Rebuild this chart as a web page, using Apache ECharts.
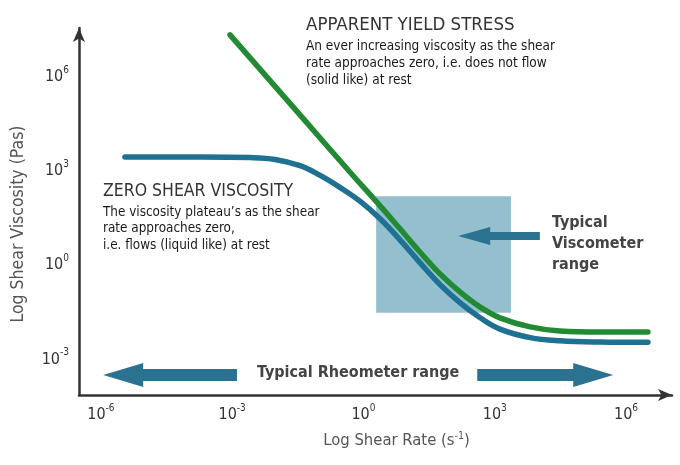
<!DOCTYPE html>
<html>
<head>
<meta charset="utf-8">
<script src="https://cdn.jsdelivr.net/npm/echarts@6/dist/echarts.min.js"></script>
<style>
html,body{margin:0;padding:0;background:#fff;}
#chart{width:680px;height:465px;}
</style>
</head>
<body>
<div id="chart"></div>
<script>
// Exponents (log10)
const xTicks = [-6, -3, 0, 3, 6];
const yTicks = [-3, 0, 3, 6];

// Zero shear viscosity curve (blue): log10 shear rate, log10 viscosity
const zsvLogRate = [-5.45, -3.73, -2.59, -2.02, -1.45, -0.99, -0.54, -0.08, 0.38, 0.84, 1.29, 1.75, 2.21, 2.66, 3.12, 3.81, 4.49, 5.41, 6.50];
const zsvLogVisc = [3.39, 3.39, 3.37, 3.31, 3.11, 2.80, 2.42, 1.98, 1.42, 0.74, 0.02, -0.68, -1.26, -1.73, -2.10, -2.37, -2.47, -2.51, -2.52];

// Apparent yield stress curve (green)
const aysLogRate = [-3.05, -1.45, -0.31, 0.38, 0.84, 1.29, 1.75, 2.21, 2.66, 3.12, 3.81, 4.49, 5.41, 6.50];
const aysLogVisc = [7.28, 4.73, 2.91, 1.83, 1.09, 0.36, -0.34, -0.92, -1.39, -1.74, -2.03, -2.16, -2.19, -2.19];

// Typical viscometer range box (log rate, log viscosity)
const viscometerRate = [0.29, 3.37];
const viscometerVisc = [2.14, -1.58];

// Arrows: [start, end] in log rate, at given log viscosity
const rheoArrowLeft = [-2.89, -5.49];
const rheoArrowRight = [2.60, 5.25];
const rheoArrowY = -3.56;
const viscoArrow = [4.03, 2.53];
const viscoArrowY = 0.87;

const zip = (a, b) => a.map((v, i) => [v, b[i]]);

const labelFont = '"Liberation Sans Narrow", "DejaVu Sans Condensed", sans-serif';
const powRich = {
  b: {fontSize: 16, color: '#333', fontFamily: labelFont, verticalAlign: 'bottom', lineHeight: 20},
  s: {fontSize: 10, color: '#333', fontFamily: labelFont, verticalAlign: 'top', lineHeight: 20}
};
const powFmt = v => '{b|10}{s|' + v + '}';

const arrowColor = '#2a7290';

const chart = echarts.init(document.getElementById('chart'));
chart.setOption({
  animation: false,
  grid: {left: 79, right: 8, top: 28, bottom: 70, containLabel: false},
  xAxis: {
    type: 'value', min: -6.5, max: 7.05,
    axisLine: {show: true, onZero: false, lineStyle: {color: '#333', width: 2.5}, symbol: ['none', 'arrow'], symbolSize: [9, 14]},
    axisTick: {show: false},
    splitLine: {show: false},
    axisLabel: {customValues: xTicks, formatter: powFmt, rich: powRich, margin: 8},
    name: 'Log Shear Rate (s{s|-1})',
    nameLocation: 'middle', nameGap: 36,
    nameTextStyle: {
      rich: {
        s: {fontSize: 10.5, color: '#555', fontFamily: labelFont, verticalAlign: 'top', lineHeight: 20}
      },
      fontSize: 16.5, color: '#555', fontFamily: labelFont, lineHeight: 20, padding: [0, 0, 0, 42]
    }
  },
  yAxis: {
    type: 'value', min: -4.2, max: 7.5,
    axisLine: {show: true, onZero: false, lineStyle: {color: '#333', width: 2.5}, symbol: ['none', 'arrow'], symbolSize: [9, 14]},
    axisTick: {show: false},
    splitLine: {show: false},
    axisLabel: {customValues: yTicks, formatter: powFmt, rich: powRich, margin: 10},
    name: 'Log Shear Viscosity (Pas)',
    nameLocation: 'middle', nameGap: 52,
    nameTextStyle: {fontSize: 17.5, color: '#555', fontFamily: labelFont, padding: [0, 0, 0, -25]}
  },
  series: [
    {
      name: 'Viscometer range', type: 'line', data: [], z: 1, silent: true,
      markArea: {
        silent: true,
        itemStyle: {color: '#93bfce', opacity: 1},
        label: {show: false},
        data: [[{coord: [viscometerRate[0], viscometerVisc[0]]}, {coord: [viscometerRate[1], viscometerVisc[1]]}]]
      }
    },
    {
      name: 'Zero shear viscosity', type: 'line', z: 3,
      data: zip(zsvLogRate, zsvLogVisc),
      showSymbol: false, smooth: 0.4,
      lineStyle: {color: '#1e7192', width: 5.5, cap: 'round'}
    },
    {
      name: 'Apparent yield stress', type: 'line', z: 3,
      data: zip(aysLogRate, aysLogVisc),
      showSymbol: false, smooth: 0.4,
      lineStyle: {color: '#228a32', width: 5.5, cap: 'round'}
    },
    {
      name: 'Arrows', type: 'line', data: [], z: 4, silent: true,
      markLine: {
        silent: true, animation: false,
        symbol: ['none', 'triangle'],
        label: {show: false},
        emphasis: {disabled: true},
        data: [
          [{coord: [rheoArrowLeft[0], rheoArrowY], symbolSize: [24, 40]}, {coord: [rheoArrowLeft[1], rheoArrowY], symbolSize: [24, 40]}],
          [{coord: [rheoArrowRight[0], rheoArrowY], symbolSize: [24, 40]}, {coord: [rheoArrowRight[1], rheoArrowY], symbolSize: [24, 40]}],
          [{coord: [viscoArrow[0], viscoArrowY], symbolSize: [18, 32], lineStyle: {width: 8}}, {coord: [viscoArrow[1], viscoArrowY], symbolSize: [18, 32]}]
        ],
        lineStyle: {color: arrowColor, width: 12, type: 'solid', cap: 'butt'}
      }
    }
  ],
  graphic: [
    {type: 'text', left: 306, top: 16, style: {text: 'APPARENT YIELD STRESS', fontSize: 18.5, fill: '#333', fontFamily: labelFont}},
    {type: 'text', left: 306, top: 38, style: {text: 'An ever increasing viscosity as the shear\nrate approaches zero, i.e. does not flow\n(solid like) at rest', fontSize: 13.5, lineHeight: 17, fill: '#1a1a1a', fontFamily: '"DejaVu Sans Condensed", sans-serif'}},
    {type: 'text', left: 103, top: 182, style: {text: 'ZERO SHEAR VISCOSITY', fontSize: 17.5, fill: '#333', fontFamily: labelFont}},
    {type: 'text', left: 103, top: 204, style: {text: 'The viscosity plateau\u2019s as the shear\nrate approaches zero,\ni.e. flows (liquid like) at rest', fontSize: 13.4, lineHeight: 16.5, fill: '#1a1a1a', fontFamily: '"DejaVu Sans Condensed", sans-serif'}},
    {type: 'text', left: 552, top: 212, style: {text: 'Typical\nViscometer\nrange', fontSize: 16, lineHeight: 21, fontWeight: 'bold', fill: '#444', fontFamily: labelFont}},
    {type: 'text', left: 257, top: 365, style: {text: 'Typical Rheometer range', fontSize: 16, fontWeight: 'bold', fill: '#444', fontFamily: labelFont}}
  ]
});
</script>
</body>
</html>
